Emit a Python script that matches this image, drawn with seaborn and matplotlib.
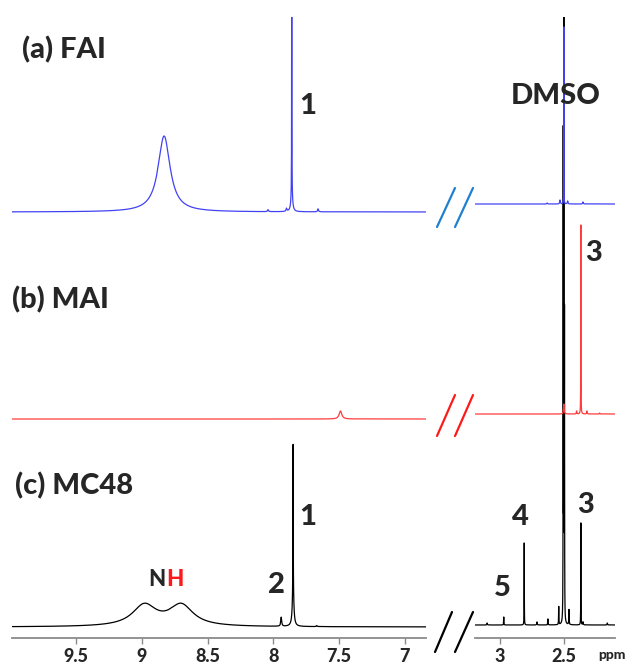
import numpy as np
import pandas as pd
import matplotlib
matplotlib.use("Agg")
import matplotlib.pyplot as plt
from matplotlib.lines import Line2D
import seaborn as sns

# ---- peak tables: chemical shift (ppm), intensity, half-width (ppm) ----
fai_ppm    = [8.83, 8.04, 7.90, 7.86, 7.86, 7.66, 2.63, 2.53, 2.50, 2.47, 2.35]
fai_height = [76, 2, 3, 14, 400, 3, 1, 4, 177, 3, 2]
fai_width  = [0.055, 0.004, 0.004, 0.008, 0.0008, 0.004, 0.003, 0.003, 0.0006, 0.003, 0.003]

mai_ppm    = [7.49, 2.50, 2.40, 2.367, 2.32, 2.22]
mai_height = [8, 10, 3, 189, 3, 1]
mai_width  = [0.012, 0.003, 0.002, 0.0008, 0.002, 0.002]

mc48_ppm    = [8.98, 8.70, 7.94, 7.85, 7.85, 7.67,
               3.10, 2.97, 2.81, 2.71, 2.625, 2.54, 2.505, 2.50, 2.495, 2.46,
               2.367, 2.35, 2.16]
mc48_height = [21, 21, 9, 32, 150, 1,
               2, 8, 82, 3, 6, 18, 480, 700, 300, 15,
               102, 3, 2]
mc48_width  = [0.11, 0.11, 0.004, 0.007, 0.0012, 0.004,
               0.002, 0.0012, 0.0008, 0.002, 0.0015, 0.0012, 0.0008, 0.0008, 0.0008, 0.0015,
               0.0008, 0.002, 0.002]

samples = ["(a) FAI", "(b) MAI", "(c) MC48"]
colors = ["#4242f5", "#ff3c3c", "#000000"]

left_ticks = [9.5, 9, 8.5, 8, 7.5, 7]
left_ticklabels = ["9.5", "9", "8.5", "8", "7.5", "7"]
right_ticks = [3, 2.5]
right_ticklabels = ["3", "2.5"]

tables = {
    "(a) FAI": (fai_ppm, fai_height, fai_width),
    "(b) MAI": (mai_ppm, mai_height, mai_width),
    "(c) MC48": (mc48_ppm, mc48_height, mc48_width),
}


def spectrum(x, ppm, height, width):
    y = np.zeros_like(x)
    for p, h, w in zip(ppm, height, width):
        y += h / (1.0 + ((x - p) / w) ** 2)
    return y


sns.set_style("white")
plt.rcParams["font.family"] = ["Lato", "DejaVu Sans"]

W, H = 632, 668
fig = plt.figure(figsize=(W / 100, H / 100), dpi=100)


def fx(px):
    return px / W


def fy(py):
    return 1 - py / H


ax_l = fig.add_axes([fx(12), fy(638), (426 - 12) / W, (638 - 17) / H])
ax_r = fig.add_axes([fx(475), fy(638), (615 - 475) / W, (638 - 17) / H])

x_left = np.arange(6.80, 10.02, 0.0002)
x_right = np.arange(2.08, 3.22, 0.0001)

# vertical stacking offsets for each trace in each panel
offsets_left = [426, 219, 11]
offsets_right = [434, 224, 13]
draw_order = [2, 1, 0]

for i in draw_order:
    name = samples[i]
    ppm, height, width = tables[name]
    for ax, xs, off in ((ax_l, x_left, offsets_left[i]), (ax_r, x_right, offsets_right[i])):
        df = pd.DataFrame({"ppm": xs, "intensity": spectrum(xs, ppm, height, width) + off})
        sns.lineplot(data=df, x="ppm", y="intensity", ax=ax, color=colors[i],
                     lw=0.9, estimator=None, sort=False, zorder=3 + (2 - i))

ax_l.set_xlim(9.986, 6.84)
ax_r.set_xlim(3.195, 2.10)
for ax, ticks, labels in ((ax_l, left_ticks, left_ticklabels), (ax_r, right_ticks, right_ticklabels)):
    ax.set_ylim(0, 621)
    ax.set_xticks(ticks)
    ax.set_xticklabels(labels)
    ax.set_yticks([])
    ax.set_xlabel("")
    ax.set_ylabel("")
    for s in ("top", "left", "right"):
        ax.spines[s].set_visible(False)
    ax.spines["bottom"].set_color("#8a8a8a")
    ax.spines["bottom"].set_linewidth(1.3)
    ax.tick_params(axis="x", direction="out", length=4, width=1, color="#8a8a8a",
                   labelsize=13, pad=3, bottom=True)
    for lab in ax.get_xticklabels():
        lab.set_fontweight("black")
    ax.patch.set_alpha(0)

fig.text(fx(612), fy(655), "ppm", fontsize=10, fontweight="black", ha="center", va="center")

# axis break marks
breaks = [
    ("#1f7fd0", [((437, 227), (455, 188)), ((455, 227), (473, 188))]),
    ("#ff1a1a", [((437, 436), (455, 395)), ((455, 436), (473, 395))]),
    ("#000000", [((435, 652), (452, 612)), ((455, 652), (473, 612))]),
]
for col, segs in breaks:
    for (x0, y0), (x1, y1) in segs:
        fig.add_artist(Line2D([fx(x0), fx(x1)], [fy(y0), fy(y1)], color=col, lw=1.6))

# sample titles
title_pos = [(22, 50), (12, 300), (15, 486)]
for name, (tx, ty) in zip(samples, title_pos):
    fig.text(fx(tx), fy(ty), name, fontsize=21, fontweight="black", ha="left", va="center")

# peak assignments
labels = [
    ("1", 308, 106), ("DMSO", 556, 96),
    ("3", 594, 253),
    ("1", 308, 517), ("2", 276, 585), ("4", 520, 517), ("5", 502, 588), ("3", 586, 505),
]
for txt, tx, ty in labels:
    fig.text(fx(tx), fy(ty), txt, fontsize=21, fontweight="black", ha="center", va="center")

fig.text(fx(166), fy(580), "N", fontsize=16, fontweight="black", ha="right", va="center")
fig.text(fx(166), fy(580), "H", fontsize=16, fontweight="black", ha="left", va="center",
         color="#ff1a1a")

fig.savefig("out.png", dpi=100)
